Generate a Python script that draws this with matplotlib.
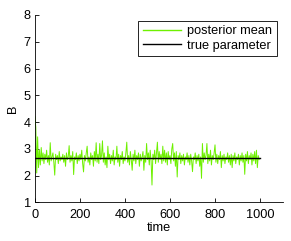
import numpy as np
import matplotlib
matplotlib.use('Agg')
import matplotlib.pyplot as plt

# posterior mean of B, one value every 4 time steps
posterior_mean = [
  4.20, 3.80, 2.10, 3.45, 2.30, 2.95, 2.40, 3.05, 2.55, 2.85,
  2.45, 2.80, 2.60, 2.95, 2.50, 2.75, 2.40, 3.23, 2.55, 2.70,
  2.85, 2.50, 2.02, 2.80, 2.60, 2.75, 2.45, 2.90, 2.55, 2.70,
  2.60, 2.80, 2.50, 2.75, 2.35, 2.85, 2.60, 2.70, 3.12, 2.50,
  2.75, 2.55, 2.90, 2.04, 2.70, 2.60, 2.85, 2.45, 2.75, 2.55,
  2.80, 2.60, 2.95, 2.45, 2.14, 2.75, 2.55, 2.85, 3.10, 2.50,
  2.70, 2.40, 2.85, 2.60, 2.75, 2.35, 2.90, 2.55, 3.23, 2.50,
  2.80, 2.45, 3.20, 2.60, 2.75, 3.30, 2.50, 2.85, 2.40, 2.70,
  2.30, 3.10, 2.60, 2.80, 2.45, 2.75, 2.55, 2.95, 2.40, 2.70,
  2.60, 3.10, 2.50, 2.80, 2.35, 2.75, 2.60, 2.90, 2.45, 2.70,
  2.55, 2.85, 3.25, 2.50, 2.75, 2.40, 2.90, 2.60, 2.20, 2.80,
  2.55, 2.95, 2.45, 2.75, 2.60, 2.85, 2.35, 2.80, 2.55, 2.70,
  2.90, 2.20, 2.75, 2.50, 3.20, 2.60, 2.85, 2.40, 2.95, 2.55,
  1.65, 2.80, 2.60, 2.95, 2.45, 2.85, 3.25, 2.50, 2.90, 2.60,
  2.80, 2.45, 3.10, 2.55, 2.95, 2.50, 2.85, 2.40, 2.90, 2.60,
  2.75, 2.45, 3.00, 3.20, 2.55, 2.85, 2.35, 2.90, 1.95, 2.75,
  2.60, 2.85, 2.45, 2.75, 2.55, 2.80, 2.40, 2.70, 2.60, 2.85,
  2.50, 2.75, 2.40, 2.80, 2.55, 2.15, 2.70, 2.60, 2.85, 2.45,
  2.75, 2.55, 2.80, 2.35, 2.70, 1.90, 3.20, 2.50, 2.85, 2.60,
  2.75, 3.20, 2.45, 2.80, 2.55, 2.95, 2.40, 2.75, 2.60, 2.85,
  3.15, 2.50, 2.80, 2.45, 2.75, 2.60, 2.90, 2.30, 2.75, 2.55,
  2.80, 2.45, 2.70, 2.60, 2.85, 2.50, 2.75, 2.40, 2.80, 2.30,
  2.75, 2.55, 2.85, 2.45, 2.70, 2.60, 2.80, 2.40, 2.75, 2.55,
  2.85, 2.50, 2.75, 2.05, 2.80, 2.55, 2.90, 2.45, 2.75, 2.60,
  2.85, 2.40, 2.80, 2.55, 2.90, 2.45, 2.95, 2.30, 2.75, 2.60,
]
time = np.arange(0, 1000, 4)
true_B = 2.65
true_span = [0, 1000]

plt.rcParams['font.family'] = ['Liberation Sans', 'DejaVu Sans']
plt.rcParams['font.size'] = 9.2

fig = plt.figure(figsize=(2.91, 2.41), dpi=100)
ax = fig.add_axes([0.120, 0.160, 0.851, 0.778])

ax.plot(time, posterior_mean, color='#6ef000', linewidth=0.7, label='posterior mean')
ax.plot(true_span, [true_B, true_B], color='black', linewidth=1.0, label='true parameter')

ax.set_xlim(0, 1100)
ax.set_ylim(1, 8)
ax.set_xticks([0, 200, 400, 600, 800, 1000])
ax.set_yticks([1, 2, 3, 4, 5, 6, 7, 8])
ax.tick_params(direction='in', length=3, width=0.6)
ax.tick_params(axis='x', pad=4.5)
ax.tick_params(axis='y', pad=3)
for s in ['top', 'right']:
  ax.spines[s].set_visible(False)
for s in ['left', 'bottom']:
  ax.spines[s].set_linewidth(0.6)

ax.set_xlabel('time', labelpad=1)
ax.set_ylabel('B', labelpad=3)

leg = ax.legend(loc='upper right', bbox_to_anchor=(0.977, 0.968), fancybox=False,
                edgecolor='black', framealpha=1, handlelength=3.0, handletextpad=0.5,
                borderpad=0.35, labelspacing=0.2, borderaxespad=0)
leg.get_frame().set_linewidth(0.6)
leg.get_lines()[0].set_linewidth(1.0)

plt.savefig('out.png', dpi=100)
